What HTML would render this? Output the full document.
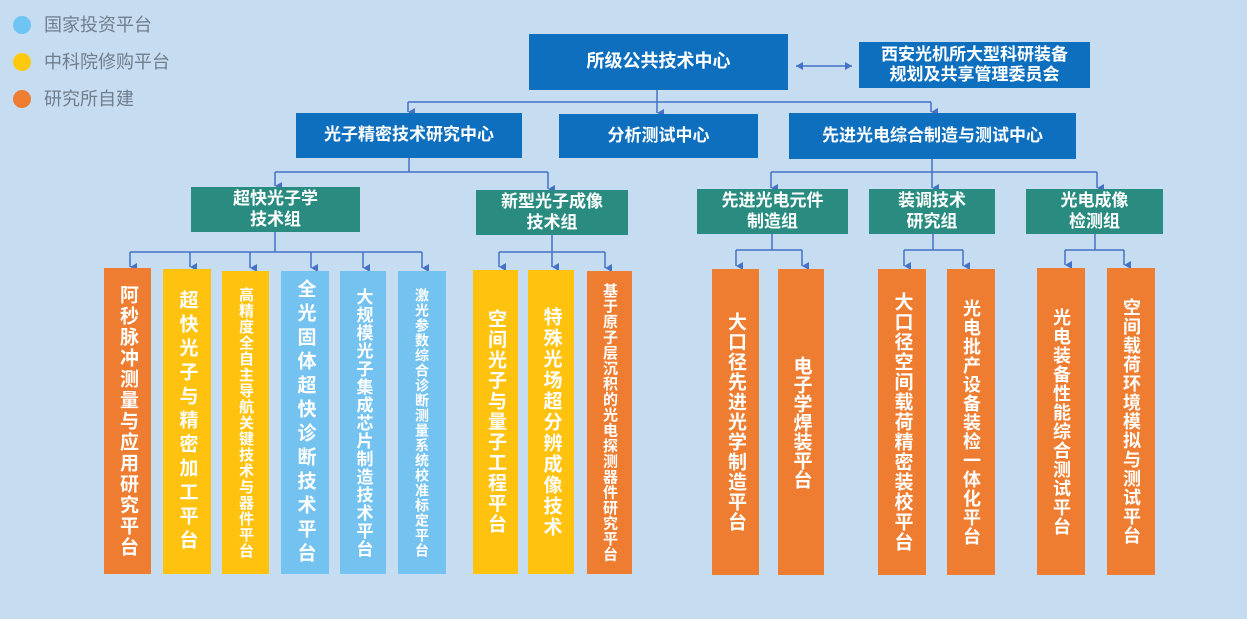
<!DOCTYPE html>
<html><head><meta charset="utf-8"><style>
body{margin:0;width:1247px;height:619px;background:#c6dcf1;position:relative;overflow:hidden;font-family:"Liberation Sans","Noto Sans CJK SC",sans-serif}
.b{position:absolute;color:#fff;font-weight:bold;display:flex;align-items:center;justify-content:center;text-align:center;line-height:1.2}
.blue{background:#0e6fbe}
.teal{background:#2a8c81}
.v{position:absolute;display:flex;align-items:center;justify-content:center;color:#fff;font-weight:bold;overflow:hidden}
.v span{writing-mode:vertical-rl;line-height:1;white-space:nowrap}
.o{background:#ee7d31}.y{background:#ffc20e}.l{background:#74c2ef}
.lg{position:absolute;left:44px;font-size:18px;color:#707d8b;line-height:20px}
.dot{position:absolute;left:13px;width:18px;height:18px;border-radius:50%}
</style></head><body>
<div class="dot" style="top:16px;background:#6fc4f2"></div><div class="lg" style="top:15px">国家投资平台</div>
<div class="dot" style="top:53px;background:#ffc90e"></div><div class="lg" style="top:52px">中科院修购平台</div>
<div class="dot" style="top:90px;background:#ee7d31"></div><div class="lg" style="top:89px">研究所自建</div>

<svg width="1247" height="619" style="position:absolute;left:0;top:0">
<defs><marker id="a" markerWidth="8" markerHeight="8" refX="4" refY="7" orient="auto" markerUnits="userSpaceOnUse"><path d="M0,0 L4,7 L8,0 Z" fill="#4472c4"/></marker>
<marker id="a2" markerWidth="8" markerHeight="8" refX="7" refY="4" orient="auto" markerUnits="userSpaceOnUse"><path d="M0,0 L7,4 L0,8 Z" fill="#4472c4"/></marker>
<marker id="a3" markerWidth="8" markerHeight="8" refX="1" refY="4" orient="auto" markerUnits="userSpaceOnUse"><path d="M8,0 L1,4 L8,8 Z" fill="#4472c4"/></marker></defs>
<g stroke="#4472c4" stroke-width="1.5" fill="none">
<line x1="796" y1="66" x2="852" y2="66" marker-end="url(#a2)" marker-start="url(#a3)"/>
<path d="M657 90V102M408 102H931"/>
<line x1="408" y1="102" x2="408" y2="112" marker-end="url(#a)"/>
<line x1="657" y1="102" x2="657" y2="113" marker-end="url(#a)"/>
<line x1="931" y1="102" x2="931" y2="112" marker-end="url(#a)"/>
<path d="M409 158V172M275 172H548"/>
<line x1="275" y1="172" x2="275" y2="186" marker-end="url(#a)"/>
<line x1="548" y1="172" x2="548" y2="189" marker-end="url(#a)"/>
<path d="M932 159V172M771 172H1097"/>
<line x1="771" y1="172" x2="771" y2="188" marker-end="url(#a)"/>
<line x1="932" y1="172" x2="932" y2="188" marker-end="url(#a)"/>
<line x1="1097" y1="172" x2="1097" y2="188" marker-end="url(#a)"/>
<path d="M275 232V252M130 252H422"/>
<line x1="130" y1="252" x2="130" y2="267" marker-end="url(#a)"/>
<line x1="190" y1="252" x2="190" y2="267" marker-end="url(#a)"/>
<line x1="250" y1="252" x2="250" y2="268" marker-end="url(#a)"/>
<line x1="311" y1="252" x2="311" y2="268" marker-end="url(#a)"/>
<line x1="363" y1="252" x2="363" y2="268" marker-end="url(#a)"/>
<line x1="422" y1="252" x2="422" y2="268" marker-end="url(#a)"/>
<path d="M552 235V252M499 252H605"/>
<line x1="499" y1="252" x2="499" y2="267" marker-end="url(#a)"/>
<line x1="552" y1="252" x2="552" y2="267" marker-end="url(#a)"/>
<line x1="605" y1="252" x2="605" y2="268" marker-end="url(#a)"/>
<path d="M772 234V250M736 250H802"/>
<line x1="736" y1="250" x2="736" y2="266" marker-end="url(#a)"/>
<line x1="802" y1="250" x2="802" y2="266" marker-end="url(#a)"/>
<path d="M933 234V250M904 250H963"/>
<line x1="904" y1="250" x2="904" y2="266" marker-end="url(#a)"/>
<line x1="963" y1="250" x2="963" y2="266" marker-end="url(#a)"/>
<path d="M1095 234V250M1065 250H1124"/>
<line x1="1065" y1="250" x2="1065" y2="265" marker-end="url(#a)"/>
<line x1="1124" y1="250" x2="1124" y2="265" marker-end="url(#a)"/>
</g></svg>

<div class="b blue" style="left:529px;top:34px;width:259px;height:56px;font-size:18px">所级公共技术中心</div>
<div class="b blue" style="left:859px;top:42px;width:231px;height:46px;font-size:17px">西安光机所大型科研装备<br>规划及共享管理委员会</div>
<div class="b blue" style="left:296px;top:113px;width:226px;height:45px;font-size:17px">光子精密技术研究中心</div>
<div class="b blue" style="left:559px;top:114px;width:199px;height:44px;font-size:17px">分析测试中心</div>
<div class="b blue" style="left:789px;top:113px;width:287px;height:46px;font-size:17px">先进光电综合制造与测试中心</div>

<div class="b teal" style="left:191px;top:187px;width:169px;height:45px;font-size:17px">超快光子学<br>技术组</div>
<div class="b teal" style="left:476px;top:190px;width:152px;height:45px;font-size:17px">新型光子成像<br>技术组</div>
<div class="b teal" style="left:697px;top:189px;width:151px;height:45px;font-size:17px">先进光电元件<br>制造组</div>
<div class="b teal" style="left:869px;top:189px;width:126px;height:45px;font-size:17px">装调技术<br>研究组</div>
<div class="b teal" style="left:1026px;top:189px;width:137px;height:45px;font-size:17px">光电成像<br>检测组</div>

<div class="v o" style="left:104px;top:268px;width:47px;height:306px;font-size:19px"><span style="letter-spacing:2px">阿秒脉冲测量与应用研究平台</span></div>
<div class="v y" style="left:163px;top:269px;width:48px;height:305px;font-size:19px"><span style="letter-spacing:5px">超快光子与精密加工平台</span></div>
<div class="v y" style="left:222px;top:271px;width:47px;height:303px;font-size:15px"><span style="letter-spacing:1px">高精度全自主导航关键技术与器件平台</span></div>
<div class="v l" style="left:281px;top:271px;width:48px;height:303px;font-size:19px"><span style="letter-spacing:5px">全光固体超快诊断技术平台</span></div>
<div class="v l" style="left:340px;top:271px;width:46px;height:303px;font-size:17px"><span style="letter-spacing:1px">大规模光子集成芯片制造技术平台</span></div>
<div class="v l" style="left:398px;top:271px;width:48px;height:303px;font-size:14px"><span style="letter-spacing:1px">激光参数综合诊断测量系统校准标定平台</span></div>
<div class="v y" style="left:473px;top:270px;width:45px;height:304px;font-size:19px"><span style="letter-spacing:1.5px">空间光子与量子工程平台</span></div>
<div class="v y" style="left:528px;top:270px;width:46px;height:304px;font-size:19px"><span style="letter-spacing:2px">特殊光场超分辨成像技术</span></div>
<div class="v o" style="left:587px;top:271px;width:45px;height:303px;font-size:15px"><span style="letter-spacing:0.5px">基于原子层沉积的光电探测器件研究平台</span></div>

<div class="v o" style="left:712px;top:269px;width:47px;height:306px;font-size:19px"><span style="letter-spacing:1px">大口径先进光学制造平台</span></div>
<div class="v o" style="left:778px;top:269px;width:46px;height:306px;font-size:19px"><span style="letter-spacing:0px">电子学焊装平台</span></div>
<div class="v o" style="left:878px;top:269px;width:48px;height:306px;font-size:19px"><span style="letter-spacing:1px">大口径空间载荷精密装校平台</span></div>
<div class="v o" style="left:947px;top:269px;width:48px;height:306px;font-size:18px"><span style="letter-spacing:1px">光电批产设备装检一体化平台</span></div>
<div class="v o" style="left:1037px;top:268px;width:48px;height:307px;font-size:18px"><span style="letter-spacing:1px">光电装备性能综合测试平台</span></div>
<div class="v o" style="left:1107px;top:268px;width:48px;height:307px;font-size:18px"><span style="letter-spacing:1px">空间载荷环境模拟与测试平台</span></div>
</body></html>
